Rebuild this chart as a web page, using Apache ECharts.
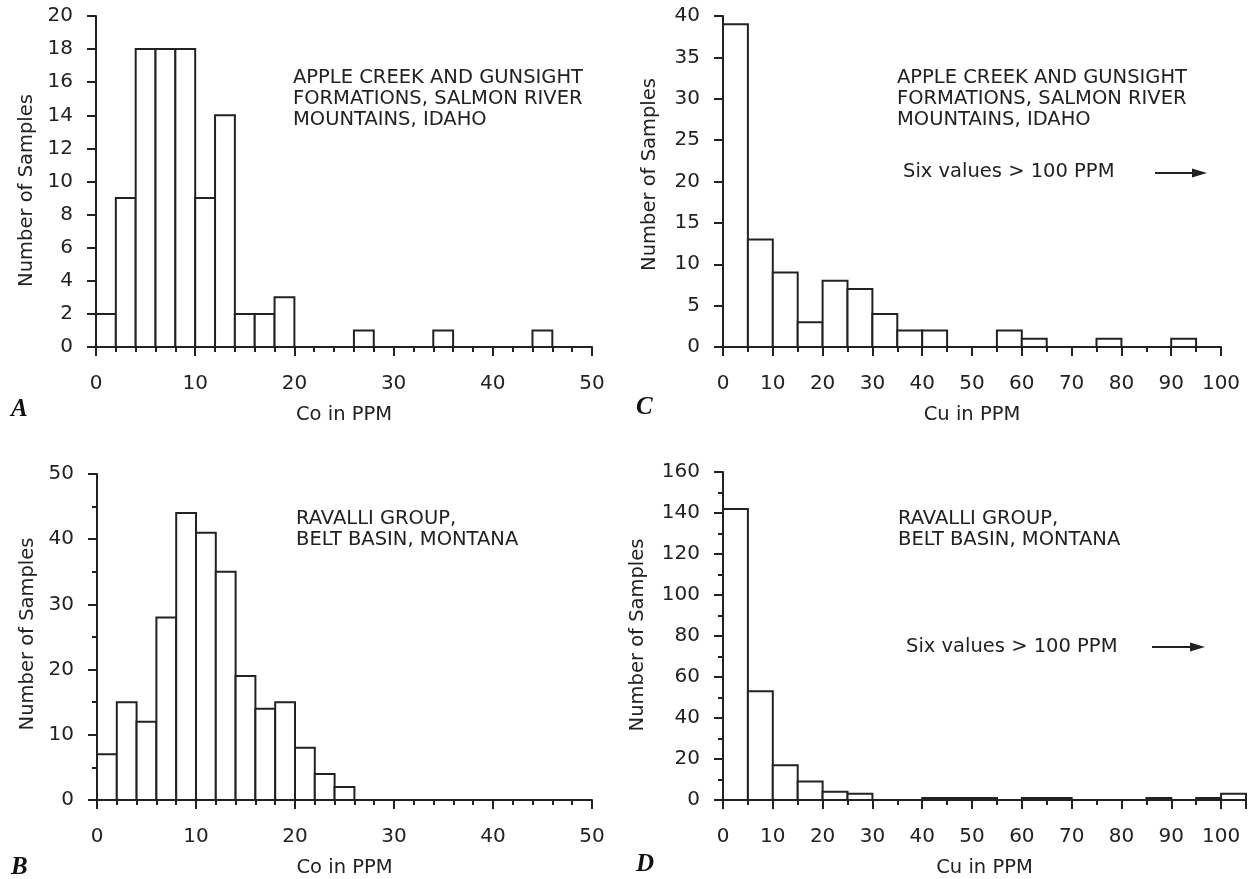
<!DOCTYPE html>
<html>
<head>
<meta charset="utf-8">
<script src="https://cdn.jsdelivr.net/npm/echarts@6/dist/echarts.min.js"></script>
<style>
html,body{margin:0;padding:0;background:#fff;}
#chart{width:1250px;height:879px;}
</style>
</head>
<body>
<div id="chart"></div>
<script>
// ---- Data ----
const binWidthCo = 2;   // Co bins (PPM)
const binWidthCu = 5;   // Cu bins (PPM)
// A: Co, Apple Creek & Gunsight Fms (bins 0-2, 2-4, ...)
const countsA = [2, 9, 18, 18, 18, 9, 14, 2, 2, 3, 0, 0, 0, 1, 0, 0, 0, 1, 0, 0, 0, 0, 1];
// B: Co, Ravalli Group
const countsB = [7, 15, 12, 28, 44, 41, 35, 19, 14, 15, 8, 4, 2];
// C: Cu, Apple Creek & Gunsight Fms (bins 0-5, 5-10, ...)
const countsC = [39, 13, 9, 3, 8, 7, 4, 2, 2, 0, 0, 2, 1, 0, 0, 1, 0, 0, 1];
// D: Cu, Ravalli Group
const countsD = [142, 53, 17, 9, 4, 3, 0, 0, 1, 1, 1, 0, 1, 1, 0, 0, 0, 1, 0, 1, 3];

const xTitleCo = 'Co in PPM';
const xTitleCu = 'Cu in PPM';
const yTitle = 'Number of Samples';
const noteIdaho = ['APPLE CREEK AND GUNSIGHT', 'FORMATIONS, SALMON RIVER', 'MOUNTAINS, IDAHO'];
const noteMontana = ['RAVALLI GROUP,', 'BELT BASIN, MONTANA'];
const noteSix = 'Six values > 100 PPM';
const panelLetters = ['A', 'B', 'C', 'D'];

// ---- Build histogram data ----
function bins(counts, w) {
  return counts.map((c, i) => [i * w, (i + 1) * w, c]);
}

const FONT = 'DejaVu Sans';
const INK = '#222';
const TXT = 19.5;

function renderItem(params, api) {
  const x0 = api.value(0), x1 = api.value(1), c = api.value(2);
  if (!c) return null;
  const p0 = api.coord([x0, 0]);
  const p1 = api.coord([x1, c]);
  return {
    type: 'rect',
    shape: { x: p0[0], y: p1[1], width: p1[0] - p0[0], height: p0[1] - p1[1] },
    style: { fill: '#fff', stroke: INK, lineWidth: 2 }
  };
}

function xAxisCfg(idx, max, interval, minorSplit, name, maxLabel) {
  return {
    type: 'value', gridIndex: idx, min: 0, max: max, interval: interval,
    name: name, nameLocation: 'middle', nameGap: 58,
    nameTextStyle: { fontFamily: FONT, fontSize: TXT, color: INK },
    axisLine: { show: true, lineStyle: { color: INK, width: 2 } },
    axisTick: { show: true, length: 9, lineStyle: { color: INK, width: 2 } },
    minorTick: { show: true, splitNumber: minorSplit, length: 5, lineStyle: { color: INK, width: 2 } },
    splitLine: { show: false },
    axisLabel: { fontFamily: FONT, fontSize: 20, color: INK, margin: 27,
      formatter: v => (v > maxLabel ? '' : String(v)) }
  };
}
function yAxisCfg(idx, max, interval, minorSplit, nameGap, namePad) {
  return {
    type: 'value', gridIndex: idx, min: 0, max: max, interval: interval,
    name: yTitle, nameLocation: 'middle', nameGap: nameGap, nameRotate: 90,
    nameTextStyle: { fontFamily: FONT, fontSize: TXT, color: INK, padding: namePad },
    axisLine: { show: true, lineStyle: { color: INK, width: 2 } },
    axisTick: { show: true, length: 9, lineStyle: { color: INK, width: 2 } },
    minorTick: { show: minorSplit > 1, splitNumber: minorSplit, length: 5, lineStyle: { color: INK, width: 2 } },
    splitLine: { show: false },
    axisLabel: { fontFamily: FONT, fontSize: 20, color: INK, margin: 23 }
  };
}

function textBlock(x, y, lines) {
  return {
    type: 'text', left: x, top: y,
    style: { text: lines.join('\n'), font: TXT + 'px "' + FONT + '"', fill: INK, lineHeight: 21 }
  };
}
function letter(x, y, t) {
  return {
    type: 'text', left: x, top: y,
    style: { text: t, font: 'italic bold 25px "Liberation Serif"', fill: '#111' }
  };
}
function arrow(x0, x1, y) {
  return [
    { type: 'line', shape: { x1: x0, y1: y, x2: x1 - 8, y2: y }, style: { stroke: INK, lineWidth: 2 } },
    { type: 'polygon', shape: { points: [[x1, y], [x1 - 15, y - 4.5], [x1 - 15, y + 4.5]] }, style: { fill: INK } }
  ];
}

const option = {
  backgroundColor: '#fff',
  animation: false,
  grid: [
    { left: 96, top: 16, width: 496, height: 331 },
    { left: 97, top: 474, width: 495, height: 332 },
    { left: 723, top: 16, width: 498, height: 331 },
    { left: 723, top: 472, width: 523, height: 330 }
  ],
  xAxis: [
    xAxisCfg(0, 50, 10, 5, xTitleCo, 50),
    xAxisCfg(1, 50, 10, 5, xTitleCo, 50),
    xAxisCfg(2, 100, 10, 2, xTitleCu, 100),
    xAxisCfg(3, 105, 10, 2, xTitleCu, 100)
  ],
  yAxis: [
    yAxisCfg(0, 20, 2, 1, 59, [0, 18, 0, 0]),
    yAxisCfg(1, 50, 10, 2, 59, [0, 0, 0, 6]),
    yAxisCfg(2, 40, 5, 1, 63, [0, 0, 0, 14]),
    yAxisCfg(3, 160, 20, 2, 75, [0, 0, 0, 2])
  ],
  series: [
    { type: 'custom', xAxisIndex: 0, yAxisIndex: 0, data: bins(countsA, binWidthCo), renderItem, clip: false },
    { type: 'custom', xAxisIndex: 1, yAxisIndex: 1, data: bins(countsB, binWidthCo), renderItem, clip: false },
    { type: 'custom', xAxisIndex: 2, yAxisIndex: 2, data: bins(countsC, binWidthCu), renderItem, clip: false },
    { type: 'custom', xAxisIndex: 3, yAxisIndex: 3, data: bins(countsD, binWidthCu), renderItem, clip: false }
  ],
  graphic: [
    textBlock(293, 67, noteIdaho),
    textBlock(897, 67, noteIdaho),
    textBlock(296, 508, noteMontana),
    textBlock(898, 508, noteMontana),
    { type: 'text', left: 903, top: 162, style: { text: noteSix, font: TXT + 'px "' + FONT + '"', fill: INK } },
    { type: 'text', left: 906, top: 637, style: { text: noteSix, font: TXT + 'px "' + FONT + '"', fill: INK } },
    ...arrow(1155, 1207, 173),
    ...arrow(1152, 1205, 647),
    letter(11, 397, panelLetters[0]),
    letter(11, 855, panelLetters[1]),
    letter(636, 395, panelLetters[2]),
    letter(636, 852, panelLetters[3])
  ]
};

const chart = echarts.init(document.getElementById('chart'), null, { renderer: 'canvas' });
chart.setOption(option);
</script>
</body>
</html>
